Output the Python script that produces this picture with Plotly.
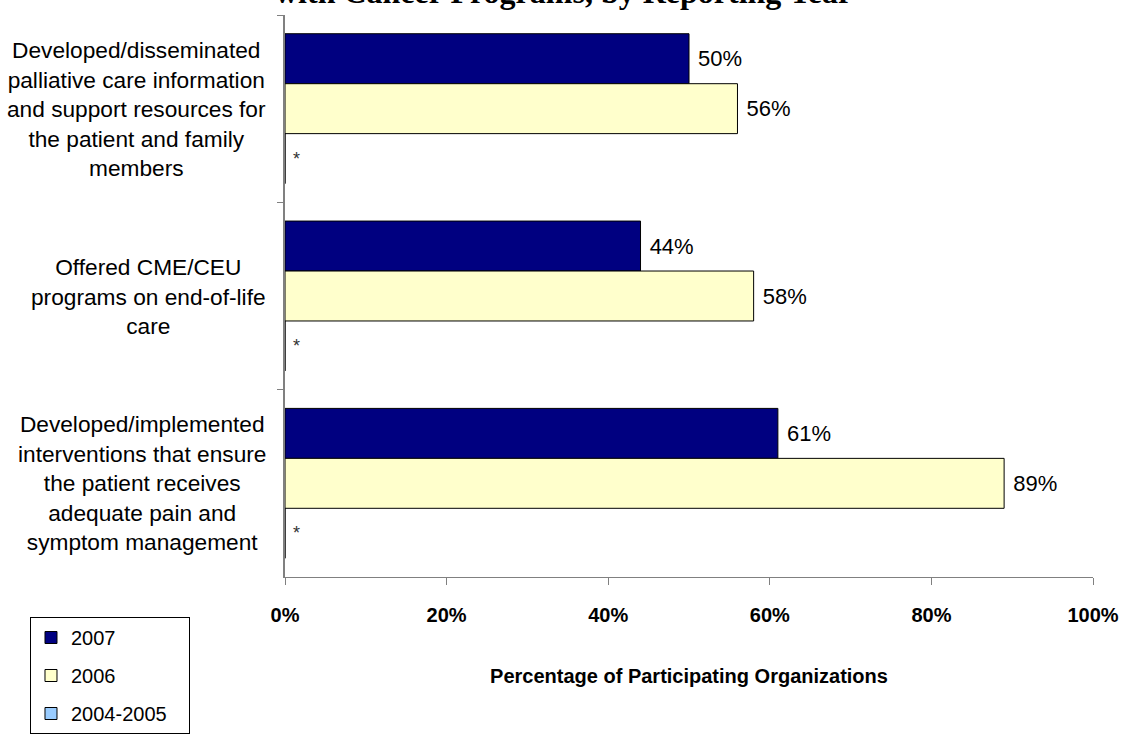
import plotly.graph_objects as go

categories = [
    "Developed/disseminated<br>palliative care information<br>and support resources for<br>the patient and family<br>members",
    "Offered CME/CEU<br>programs on end-of-life<br>care",
    "Developed/implemented<br>interventions that ensure<br>the patient receives<br>adequate pain and<br>symptom management",
]
cat_keys = ["c1", "c2", "c3"]
series_names = ["2007", "2006", "2004-2005"]
values_2007 = [50, 44, 61]
values_2006 = [56, 58, 89]
values_2004_2005 = [0, 0, 0]  # no data, shown with "*"
colors = ["#000080", "#FFFFCC", "#99CCFF"]

sans = "Liberation Sans, Arial, sans-serif"

fig = go.Figure()
for name, vals, col in zip(series_names, [values_2007, values_2006, values_2004_2005], colors):
    if name == "2004-2005":
        txt = ["\u00a0*"] * len(vals)
        tfont = dict(family=sans, size=18, color="#333333")
        legend_name = name + "\u00a0\u00a0\u00a0"
    else:
        txt = [f"\u00a0{v}%" for v in vals]
        tfont = dict(family=sans, size=22, color="black")
        legend_name = name
    fig.add_trace(go.Bar(
        y=cat_keys, x=vals, name=legend_name, orientation="h",
        marker=dict(color=col, line=dict(color="black", width=1)),
        text=txt, textposition="outside", textfont=tfont,
        cliponaxis=False, legendgroup=name,
    ))

# category labels, centered lines, right-aligned block
for key, lab in zip(cat_keys, categories):
    fig.add_annotation(
        x=-0.021, xref="paper", y=key, yref="y", text=lab, showarrow=False,
        xanchor="right", yanchor="middle", align="center",
        font=dict(family=sans, size=22.7, color="black"),
    )

# title (top part falls outside the page, as in the source)
fig.add_annotation(
    x=0.345, xref="paper", y=1.006, yref="paper", yanchor="bottom", showarrow=False,
    text="<b>with Cancer Programs, by Reporting Year</b>",
    font=dict(family="Liberation Serif, Times New Roman, serif", size=32, color="black"),
)

fig.update_layout(
    width=1124, height=734,
    margin=dict(l=285, r=31, t=15, b=157, autoexpand=False),
    paper_bgcolor="white", plot_bgcolor="white",
    barmode="group", bargap=0.2, bargroupgap=0,
    showlegend=True,
    legend=dict(
        x=-0.3156, y=-0.0712, xanchor="left", yanchor="top",
        bordercolor="black", borderwidth=1, bgcolor="white",
        font=dict(family=sans, size=20, color="black"),
        traceorder="grouped", tracegroupgap=9,
    ),
    xaxis=dict(
        range=[0, 100], tickvals=[0, 20, 40, 60, 80, 100],
        ticktext=["0%", "20%", "40%", "60%", "80%", "100%"],
        showgrid=False, zeroline=False,
        showline=True, linecolor="#808080", linewidth=1,
        ticks="outside", ticklen=7, tickcolor="#808080",
        tickfont=dict(family=sans, size=20, color="black", weight="bold"),
        ticklabelstandoff=13,
        title=dict(text="<b>Percentage of Participating Organizations</b>",
                   font=dict(family=sans, size=20, color="black"), standoff=43),
    ),
    yaxis=dict(
        type="category", categoryorder="array", categoryarray=cat_keys,
        autorange="reversed", showticklabels=False,
        showgrid=False, zeroline=False,
        showline=True, linecolor="#808080", linewidth=2,
        ticks="outside", ticklen=6, tickcolor="#808080", tickson="boundaries",
    ),
)

# drop the browser's default page margin so the figure sits at the top-left corner
fig.write_html("out.html", config={"displayModeBar": False},
               post_script="document.body.style.margin = '0';")
